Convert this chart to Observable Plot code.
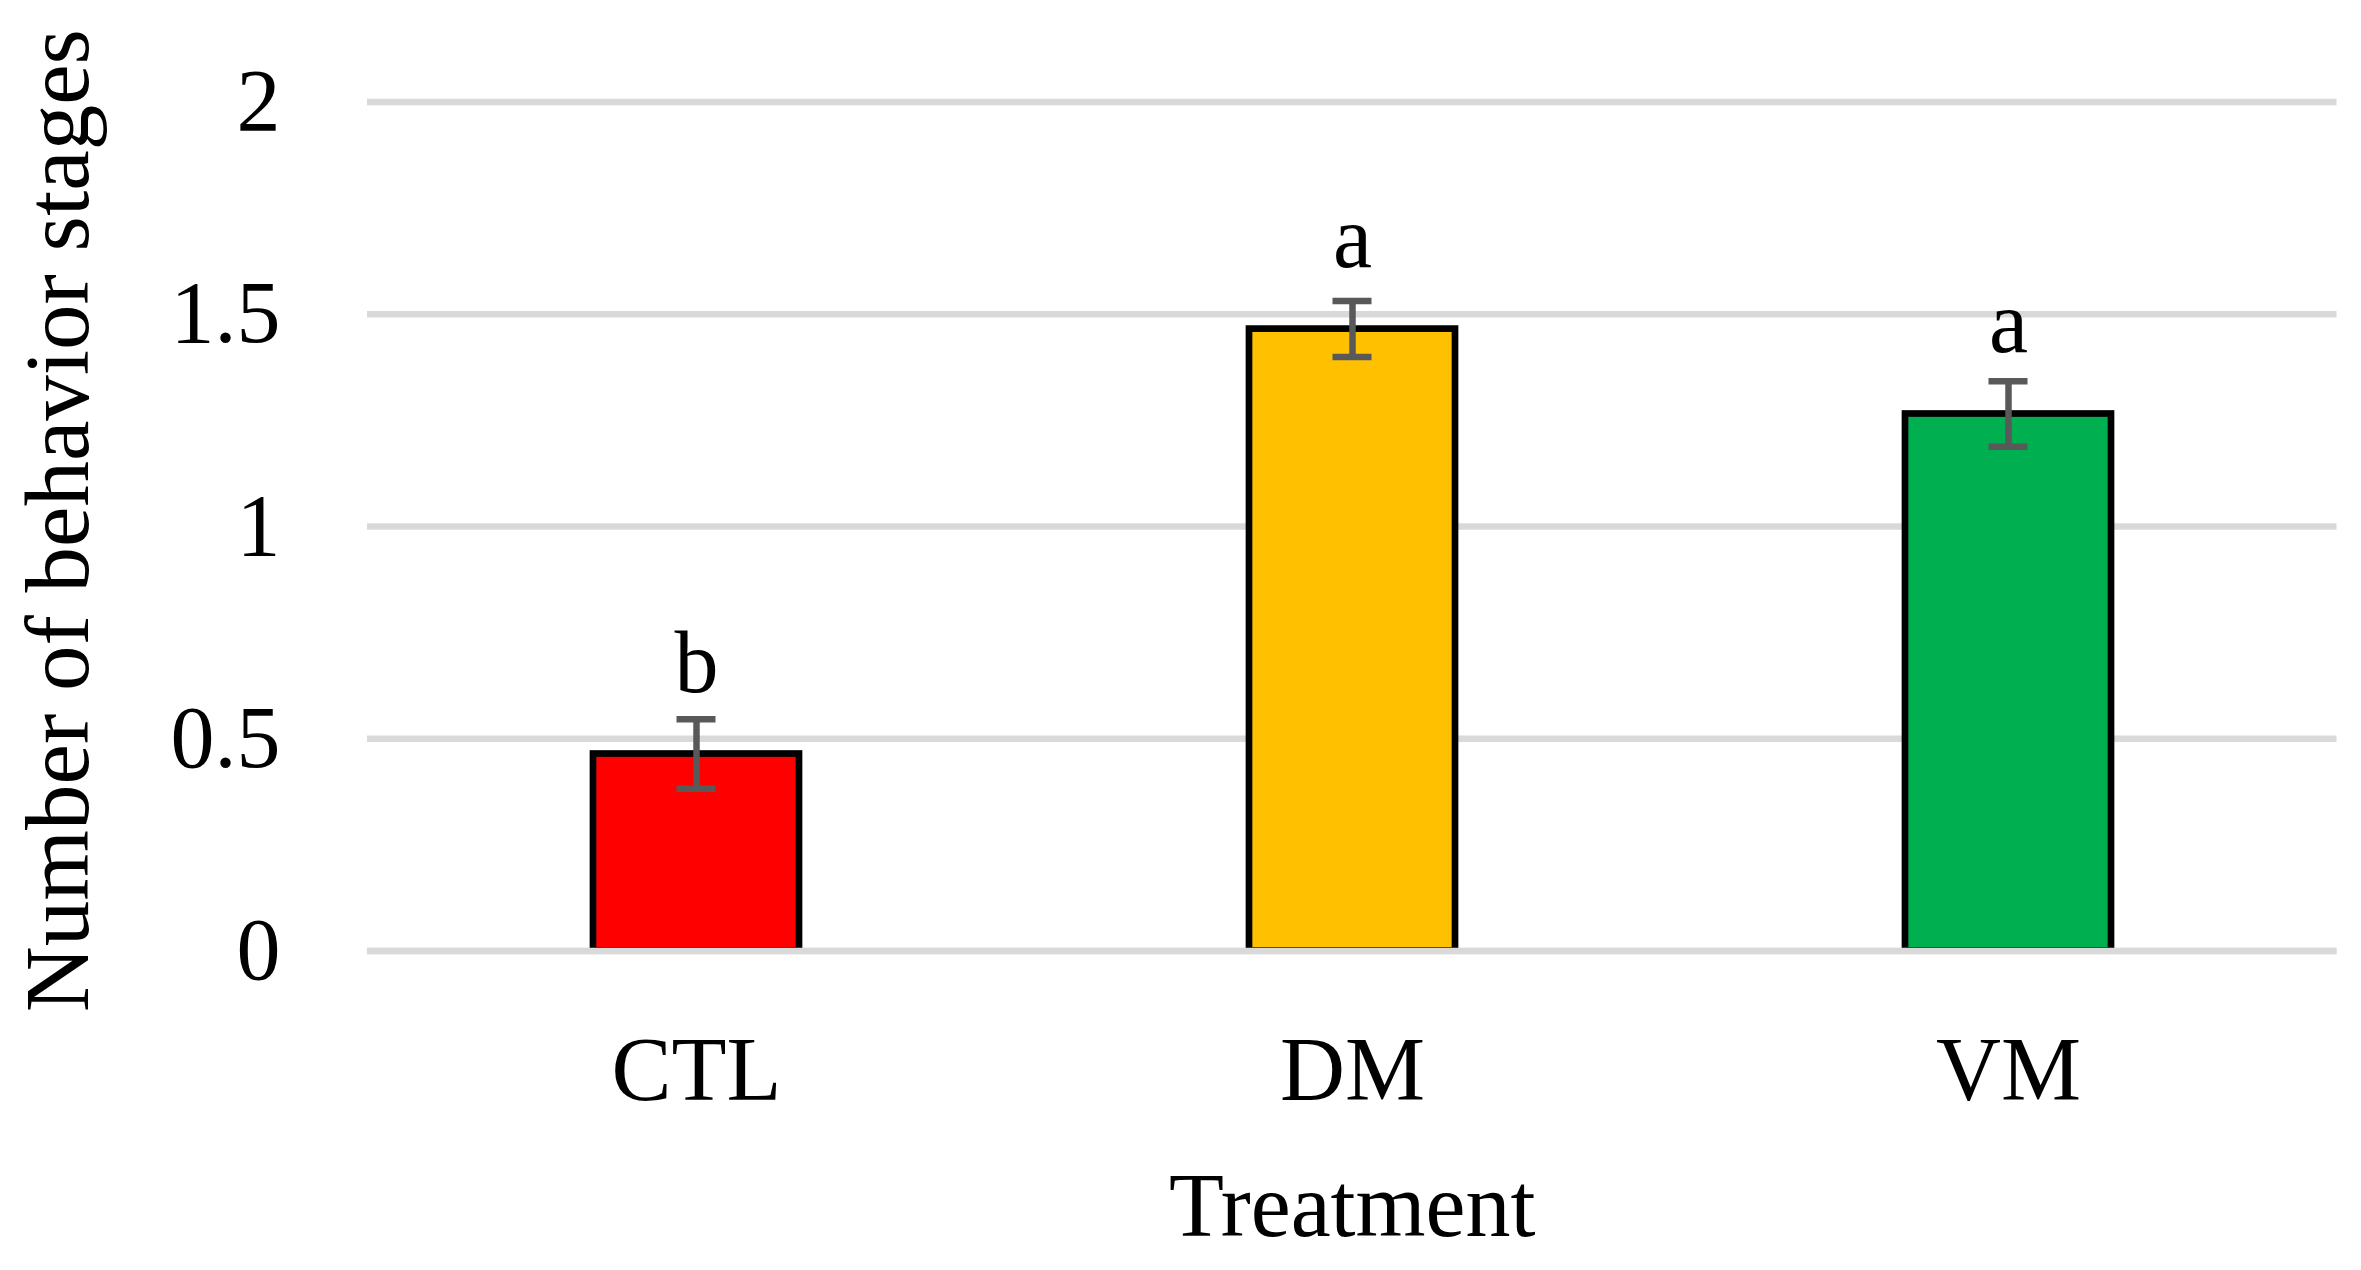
<!DOCTYPE html>
<html>
<head>
<meta charset="utf-8">
<script src="https://cdn.jsdelivr.net/npm/d3@7"></script>
<script src="https://cdn.jsdelivr.net/npm/@observablehq/plot@0.6"></script>
<style>
  html, body { margin: 0; padding: 0; background: #fff; }
  #chart svg { display: block; }
</style>
</head>
<body>
<div id="chart"></div>
<script>
const treatments = ["CTL", "DM", "VM"];
const means = [0.464, 1.465, 1.265];
const errors = [0.082, 0.066, 0.077];
const letters = ["b", "a", "a"];
const barColors = ["#FF0000", "#FFC000", "#00B050"];
const yTicks = [0, 0.5, 1, 1.5, 2];
const xTitle = "Treatment";
const yTitle = "Number of behavior stages";

const data = treatments.map((t, i) => ({
  treatment: t, mean: means[i], err: errors[i], letter: letters[i],
  lo: means[i] - errors[i], hi: means[i] + errors[i]
}));

const font = "'Liberation Serif', 'DejaVu Serif', serif";

const chart = Plot.plot({
  width: 2361,
  height: 1270,
  marginLeft: 367,
  marginRight: 24.5,
  marginTop: 101.5,
  marginBottom: 319.5,
  style: { fontFamily: font, background: "#fff", color: "#000", overflow: "visible" },
  x: { domain: treatments, paddingInner: 0.686, paddingOuter: 0.343, label: null },
  y: { domain: [0, 2], ticks: yTicks, label: null },
  color: { domain: treatments, range: barColors },
  marks: [
    Plot.gridY(yTicks, { stroke: "#D9D9D9", strokeOpacity: 1, strokeWidth: 6.7 }),
    Plot.barY(data, { x: "treatment", y: "mean", fill: "treatment", stroke: "#000", strokeWidth: 6.7 }),
    Plot.ruleY([0], { stroke: "#D9D9D9", strokeWidth: 6.7 }),
    Plot.ruleX(data, { x: "treatment", y1: "lo", y2: "hi", stroke: "#595959", strokeWidth: 6.5 }),
    Plot.tickY(data, { x: "treatment", y: "lo", stroke: "#595959", strokeWidth: 6.5, insetLeft: 83.5, insetRight: 83.5 }),
    Plot.tickY(data, { x: "treatment", y: "hi", stroke: "#595959", strokeWidth: 6.5, insetLeft: 83.5, insetRight: 83.5 }),
    Plot.text(data, { x: "treatment", y: "mean", text: "letter", lineAnchor: "bottom", dy: -62, fontSize: 88, fill: "#000" }),
    Plot.axisY(yTicks, { tickSize: 0, tickPadding: 87, fontSize: 88, tickFormat: d => String(d), label: null, fill: "#000" }),
    Plot.axisX({ tickSize: 0, tickPadding: 85, fontSize: 90, label: null, fill: "#000" }),
    Plot.text([xTitle], { frameAnchor: "bottom", lineAnchor: "bottom", dy: 284.5, fontSize: 90, fill: "#000" }),
    Plot.text([yTitle], { frameAnchor: "left", rotate: -90, lineAnchor: "bottom", textAnchor: "middle", dx: -280, dy: -6, fontSize: 91, fill: "#000" })
  ]
});

document.getElementById("chart").appendChild(chart);
</script>
</body>
</html>
